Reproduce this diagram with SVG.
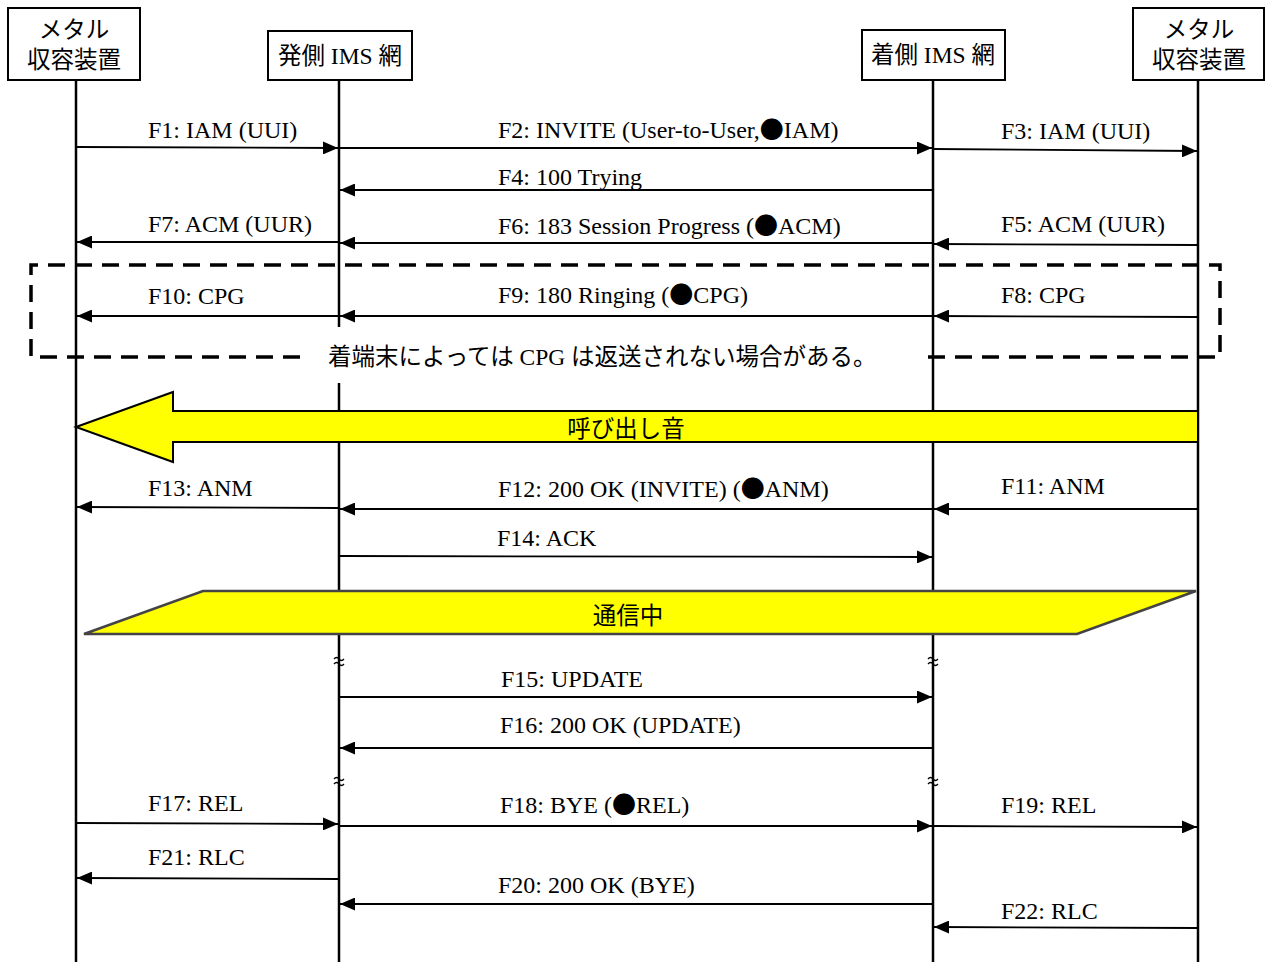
<svg xmlns="http://www.w3.org/2000/svg" width="1265" height="962" viewBox="0 0 1265 962">
<style>
text{font-family:"Liberation Serif","Noto Sans CJK JP",serif;font-size:24px;fill:#000}
.jp{font-size:23.5px}
.dot{font-family:"Noto Sans CJK JP",sans-serif}
.box{fill:#fff;stroke:#000;stroke-width:2}
.life{stroke:#000;stroke-width:2.5;fill:none}
.msg{stroke:#000;stroke-width:1.8;fill:none;marker-end:url(#ah)}
.c{text-anchor:middle}
.dash{fill:none;stroke:#000;stroke-width:3.5;stroke-dasharray:17 10}
.brk{fill:none;stroke:#000;stroke-width:1.3}
</style>
<defs>
<marker id="ah" viewBox="0 0 15 13" refX="15" refY="6.5" markerWidth="15" markerHeight="13" markerUnits="userSpaceOnUse" orient="auto">
<path d="M0,0 L15,6.5 L0,13 Z" fill="#000"/>
</marker>
</defs>
<rect width="1265" height="962" fill="#fff"/>
<g id="lifelines">
<line class="life" x1="76" y1="80" x2="76" y2="962"/>
<line class="life" x1="339" y1="80" x2="339" y2="962"/>
<line class="life" x1="933" y1="80" x2="933" y2="962"/>
<line class="life" x1="1198" y1="80" x2="1198" y2="962"/>
</g>
<g id="node-metal-left">
<rect class="box" x="8" y="8" width="132" height="72"/>
<text class="c jp" x="74" y="38">メタル</text>
<text class="c jp" x="74" y="68">収容装置</text>
</g>
<g id="node-ims-orig">
<rect class="box" x="268" y="31" width="144" height="49"/>
<text class="c jp" x="340" y="64">発側 IMS 網</text>
</g>
<g id="node-ims-term">
<rect class="box" x="862" y="30" width="143" height="50"/>
<text class="c jp" x="933" y="63">着側 IMS 網</text>
</g>
<g id="node-metal-right">
<rect class="box" x="1133" y="8" width="131" height="72"/>
<text class="c jp" x="1199" y="38">メタル</text>
<text class="c jp" x="1199" y="68">収容装置</text>
</g>
<g id="cpg-note">
<path class="dash" d="M300,357 L31,357 L31,265 L1220,265 L1220,357 L928,357"/>
<rect x="318" y="327" width="607" height="56" fill="#fff"/>
<text class="jp" x="328" y="365">着端末によっては CPG は返送されない場合がある。</text>
</g>
<g id="ringing">
<path d="M76,427 L173,392 L173,411 L1198,411 L1198,442 L173,442 L173,462 Z" fill="#ffff00" stroke="#000" stroke-width="2"/>
<text class="c jp" x="626" y="437">呼び出し音</text>
</g>
<g id="talking">
<path d="M84,634 L203,591 L1196,591 L1077,634 Z" fill="#ffff00" stroke="#444" stroke-width="2.5"/>
<text class="c jp" x="628" y="624">通信中</text>
</g>
<g id="breaks">
<path class="brk" d="M334,659 q2.5,-3 5,0 t5,0 M334,664 q2.5,-3 5,0 t5,0"/>
<path class="brk" d="M928,659 q2.5,-3 5,0 t5,0 M928,664 q2.5,-3 5,0 t5,0"/>
<path class="brk" d="M334,779 q2.5,-3 5,0 t5,0 M334,784 q2.5,-3 5,0 t5,0"/>
<path class="brk" d="M928,779 q2.5,-3 5,0 t5,0 M928,784 q2.5,-3 5,0 t5,0"/>
</g>
<g id="connectors">
<line class="msg" x1="76" y1="147" x2="338" y2="148"/>
<line class="msg" x1="339" y1="148" x2="932" y2="148"/>
<line class="msg" x1="933" y1="149" x2="1197" y2="151"/>
<line class="msg" x1="933" y1="190" x2="340" y2="190"/>
<line class="msg" x1="1198" y1="245" x2="934" y2="244"/>
<line class="msg" x1="933" y1="243" x2="340" y2="243"/>
<line class="msg" x1="339" y1="242" x2="77" y2="242"/>
<line class="msg" x1="1198" y1="317" x2="934" y2="316"/>
<line class="msg" x1="933" y1="316" x2="340" y2="316"/>
<line class="msg" x1="339" y1="316" x2="77" y2="316"/>
<line class="msg" x1="1198" y1="509" x2="934" y2="509"/>
<line class="msg" x1="933" y1="509" x2="340" y2="509"/>
<line class="msg" x1="339" y1="508" x2="77" y2="507"/>
<line class="msg" x1="339" y1="556" x2="932" y2="557"/>
<line class="msg" x1="339" y1="697" x2="932" y2="697"/>
<line class="msg" x1="933" y1="748" x2="340" y2="748"/>
<line class="msg" x1="76" y1="823" x2="338" y2="824"/>
<line class="msg" x1="339" y1="826" x2="932" y2="826"/>
<line class="msg" x1="933" y1="826" x2="1197" y2="827"/>
<line class="msg" x1="339" y1="879" x2="77" y2="878"/>
<line class="msg" x1="933" y1="904" x2="340" y2="904"/>
<line class="msg" x1="1198" y1="928" x2="934" y2="927"/>
</g>
<g id="labels">
<text x="148" y="138">F1: IAM (UUI)</text>
<text x="498" y="138">F2: INVITE (User-to-User,<tspan class="dot">●</tspan>IAM)</text>
<text x="1001" y="139">F3: IAM (UUI)</text>
<text x="498" y="185">F4: 100 Trying</text>
<text x="1001" y="232">F5: ACM (UUR)</text>
<text x="498" y="234">F6: 183 Session Progress (<tspan class="dot">●</tspan>ACM)</text>
<text x="148" y="232">F7: ACM (UUR)</text>
<text x="1001" y="303">F8: CPG</text>
<text x="498" y="303">F9: 180 Ringing (<tspan class="dot">●</tspan>CPG)</text>
<text x="148" y="304">F10: CPG</text>
<text x="1001" y="494">F11: ANM</text>
<text x="498" y="497">F12: 200 OK (INVITE) (<tspan class="dot">●</tspan>ANM)</text>
<text x="148" y="496">F13: ANM</text>
<text x="497" y="546">F14: ACK</text>
<text x="501" y="687">F15: UPDATE</text>
<text x="500" y="733">F16: 200 OK (UPDATE)</text>
<text x="148" y="811">F17: REL</text>
<text x="500" y="813">F18: BYE (<tspan class="dot">●</tspan>REL)</text>
<text x="1001" y="813">F19: REL</text>
<text x="148" y="865">F21: RLC</text>
<text x="498" y="893">F20: 200 OK (BYE)</text>
<text x="1001" y="919">F22: RLC</text>
</g>
</svg>
